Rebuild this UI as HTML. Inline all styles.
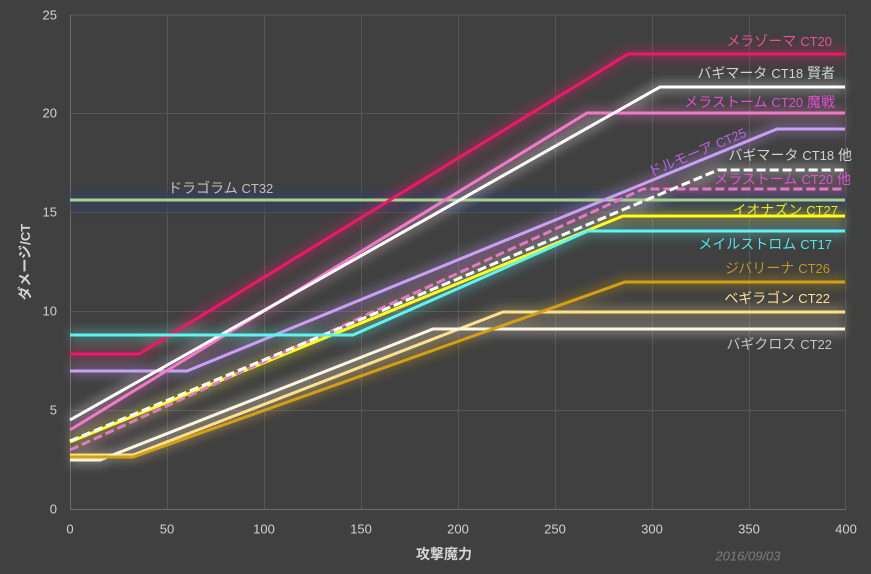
<!DOCTYPE html>
<html><head><meta charset="utf-8">
<style>
html,body{margin:0;padding:0;background:#404040;}
svg{display:block;}
text{font-family:"Liberation Sans","Noto Sans CJK JP",sans-serif;}
</style></head>
<body>
<svg width="871" height="574" viewBox="0 0 871 574" xmlns="http://www.w3.org/2000/svg">
<defs>
<filter id="b" x="-20%" y="-50%" width="140%" height="200%"><feGaussianBlur stdDeviation="5"/></filter>
<filter id="b2" x="-20%" y="-50%" width="140%" height="200%"><feGaussianBlur stdDeviation="3"/></filter>
</defs>
<rect width="871" height="574" fill="#404040"/>
<!-- grid -->
<g stroke="#575757" stroke-width="1">
<line x1="70" y1="15" x2="846" y2="15"/>
<line x1="70" y1="113.5" x2="846" y2="113.5"/>
<line x1="70" y1="212.5" x2="846" y2="212.5"/>
<line x1="70" y1="311.5" x2="846" y2="311.5"/>
<line x1="70" y1="410.5" x2="846" y2="410.5"/>
<line x1="167.5" y1="15" x2="167.5" y2="509"/>
<line x1="264.5" y1="15" x2="264.5" y2="509"/>
<line x1="361.5" y1="15" x2="361.5" y2="509"/>
<line x1="458.5" y1="15" x2="458.5" y2="509"/>
<line x1="555.5" y1="15" x2="555.5" y2="509"/>
<line x1="652.5" y1="15" x2="652.5" y2="509"/>
<line x1="749.5" y1="15" x2="749.5" y2="509"/>
<line x1="845.5" y1="15" x2="845.5" y2="509"/>
</g>
<g stroke="#6e6e6e" stroke-width="1">
<line x1="70.5" y1="15" x2="70.5" y2="509.5"/>
<line x1="70" y1="509.5" x2="846" y2="509.5"/>
</g>
<!-- blue band -->
<rect x="70" y="190" width="776" height="22" fill="#34405a" opacity="0.75" filter="url(#b2)"/>

<!-- glows -->
<g fill="none" stroke-width="12" stroke-linejoin="round" opacity="0.28" filter="url(#b)">
<polyline stroke="#ff1a6e" points="70,354 139,354 628,54 845,54"/>
<polyline stroke="#ffffff" points="70,420 660,87 845,87"/>
<polyline stroke="#f27ac8" points="70,430 587,113 845,113"/>
<polyline stroke="#c9a0f5" points="70,371 187,371 777,129 845,129"/>
<polyline stroke="#ffffff" points="70,441 718,170 845,170"/>
<polyline stroke="#e878c8" points="70,450 643,189 845,189"/>
<polyline stroke="#ffff20" points="70,442 623,216 845,216"/>
<polyline stroke="#60f4f0" points="70,335 353,335 588,231 845,231"/>
<polyline stroke="#d4a010" points="70,456 133,456 625,282 845,282"/>
<polyline stroke="#ffe08a" points="70,455 133,455 503,312 845,312"/>
<polyline stroke="#fff6e6" points="70,460 100,460 433,329 845,329"/>
</g>

<!-- series -->
<g fill="none" stroke-width="3" stroke-linejoin="miter">
<polyline stroke="#a9d18e" points="70,200 845,200"/>
<polyline stroke="#ffe08a" points="70,455 133,455 503,312 845,312"/>
<polyline stroke="#fff4e0" points="70,460 100,460 433,329 845,329"/>
<polyline stroke="#d4a012" points="70,457 133,457 625,282 845,282"/>
<polyline stroke="#ffff1a" points="70,442 623,216 845,216"/>
<polyline stroke="#e27ac6" stroke-dasharray="9 4" points="70,450 643,189 845,189"/>
<polyline stroke="#ffffff" stroke-dasharray="9 4" points="70,441 718,170 845,170"/>
<polyline stroke="#c9a0f5" points="70,371 187,371 777,129 845,129"/>
<polyline stroke="#f27ac8" points="70,430 587,113 845,113"/>
<polyline stroke="#ffffff" points="70,420 660,87 845,87"/>
<polyline stroke="#f0176b" points="70,354 139,354 628,54 845,54"/>
<polyline stroke="#5ff4f0" points="70,335 353,335 588,231 845,231"/>
</g>

<!-- series labels -->
<g font-size="14" text-anchor="end" dominant-baseline="central">
<text x="832" y="41" fill="#f0508c">メラゾーマ <tspan font-size="13">CT20</tspan></text>
<text x="835" y="73" fill="#d2d2d2">バギマータ <tspan font-size="13">CT18</tspan> 賢者</text>
<text x="835" y="102" fill="#e050d2">メラストーム <tspan font-size="13">CT20</tspan> 魔戦</text>
<text x="852" y="155" fill="#d2d2d2">バギマータ <tspan font-size="13">CT18</tspan> 他</text>
<text x="851" y="179" fill="#e050d2">メラストーム <tspan font-size="13">CT20</tspan> 他</text>
<text x="838" y="210" fill="#e8e820">イオナズン <tspan font-size="13">CT27</tspan></text>
<text x="832" y="244" fill="#50e6e6">メイルストロム <tspan font-size="13">CT17</tspan></text>
<text x="830" y="268" fill="#c49422">ジバリーナ <tspan font-size="13">CT26</tspan></text>
<text x="830" y="298" fill="#ffe08e">ベギラゴン <tspan font-size="13">CT22</tspan></text>
<text x="832" y="344" fill="#c4c4c4">バギクロス <tspan font-size="13">CT22</tspan></text>
</g>
<text x="168" y="188" font-size="14" fill="#c0c0c0" dominant-baseline="central">ドラゴラム <tspan font-size="13">CT32</tspan></text>
<text x="0" y="0" font-size="14" fill="#c060e6" dominant-baseline="central" text-anchor="middle" transform="translate(697,152) rotate(-23)">ドルモーア <tspan font-size="13">CT25</tspan></text>

<!-- y ticks -->
<g font-size="13" fill="#d0d0d0" text-anchor="end" dominant-baseline="central">
<text x="57" y="15">25</text>
<text x="57" y="113">20</text>
<text x="57" y="212">15</text>
<text x="57" y="311">10</text>
<text x="57" y="410">5</text>
<text x="57" y="509">0</text>
</g>
<!-- x ticks -->
<g font-size="13" fill="#d0d0d0" text-anchor="middle" dominant-baseline="central">
<text x="70" y="529">0</text>
<text x="167" y="529">50</text>
<text x="264" y="529">100</text>
<text x="361" y="529">150</text>
<text x="458" y="529">200</text>
<text x="555" y="529">250</text>
<text x="652" y="529">300</text>
<text x="749" y="529">350</text>
<text x="846" y="529">400</text>
</g>
<text x="444" y="554" font-size="14" font-weight="bold" fill="#d4d4d4" text-anchor="middle" dominant-baseline="central">攻撃魔力</text>
<text x="0" y="0" font-size="14" font-weight="bold" fill="#d4d4d4" text-anchor="middle" dominant-baseline="central" transform="translate(25,262) rotate(-90)">ダメージ/<tspan font-size="13">CT</tspan></text>
<text x="748" y="556" font-size="13" font-style="italic" fill="#7c7c7c" text-anchor="middle" dominant-baseline="central">2016/09/03</text>
</svg>
</body></html>
